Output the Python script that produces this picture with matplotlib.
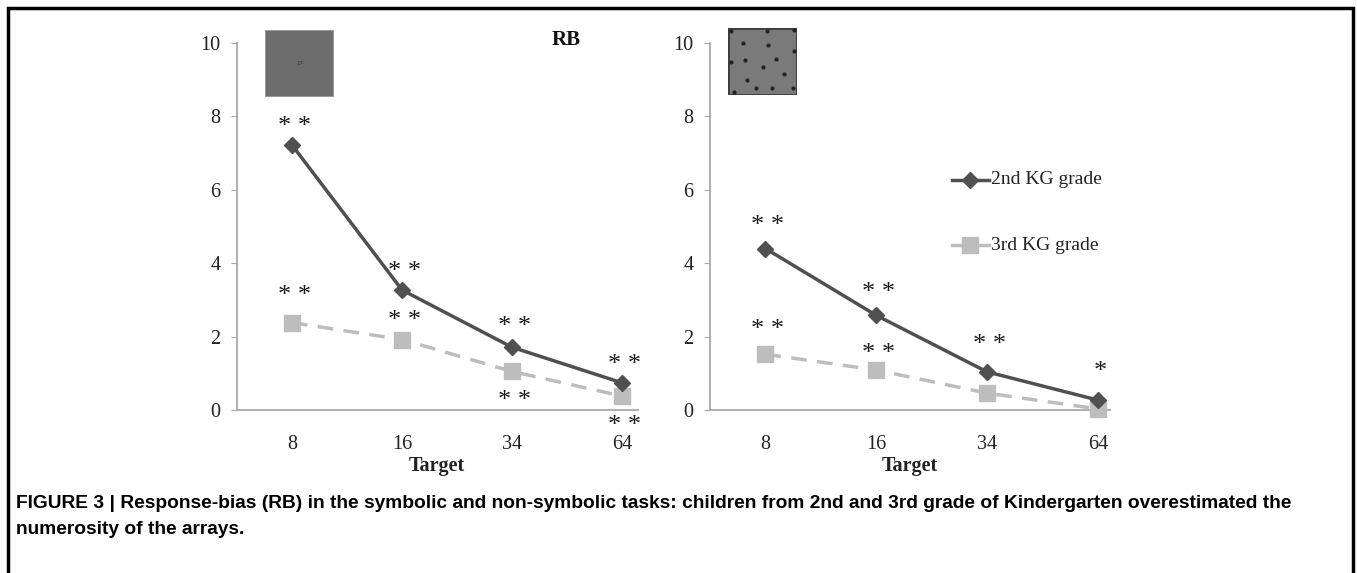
import matplotlib
matplotlib.use("Agg")
import matplotlib.pyplot as plt
from matplotlib.lines import Line2D
from matplotlib.patches import Rectangle

# data
targets = ["8", "16", "34", "64"]
symb_2nd = [7.22, 3.27, 1.71, 0.74]
symb_3rd = [2.38, 1.92, 1.05, 0.38]
nonsymb_2nd = [4.40, 2.58, 1.04, 0.27]
nonsymb_3rd = [1.52, 1.09, 0.46, 0.03]

# significance marks: (category, y of text, label)
symb_stars = [(0, 7.86, "* *"), (0, 3.27, "* *"), (1, 3.92, "* *"), (1, 2.59, "* *"),
              (2, 2.40, "* *"), (2, 0.40, "* *"), (3, 1.38, "* *"), (3, -0.29, "* *")]
nonsymb_stars = [(0, 5.17, "* *"), (0, 2.34, "* *"), (1, 3.35, "* *"), (1, 1.68, "* *"),
                 (2, 1.92, "* *"), (3, 1.18, "*")]

# dots in the non-symbolic example picture (fractions of the square, y from top)
dots_x = [0.04, 0.56, 0.96, 0.22, 0.58, 0.95, 0.05, 0.25, 0.70, 0.50, 0.81, 0.28, 0.08, 0.41, 0.64, 0.94]
dots_y = [0.05, 0.05, 0.03, 0.23, 0.26, 0.34, 0.50, 0.48, 0.46, 0.58, 0.68, 0.77, 0.96, 0.90, 0.90, 0.90]

W, H = 1357, 573
dark = "#505050"
light = "#bdbdbd"
serif = ["Liberation Serif", "DejaVu Serif"]

fig = plt.figure(figsize=(W / 100, H / 100), dpi=100)


def px(x, y):
    return x / W, 1 - y / H


def panel(left, right, xmax, s2, s3, stars):
    x0, y0 = px(left, 410)
    x1, y1 = px(right, 43)
    ax = fig.add_axes([x0, y0, x1 - x0, y1 - y0])
    xs = range(len(targets))
    ax.plot(xs, s3, color=light, lw=2.5, ls=(0, (4.5, 3)), marker="s", ms=12,
            clip_on=False, zorder=3)
    ax.plot(xs, s2, color=dark, lw=2.5, marker="D", ms=8.5, clip_on=False, zorder=4)
    for i, yv, lab in stars:
        # Times asterisks sit high in the line, so push the text down a little
        ax.annotate(lab, (i + 0.02, yv), xytext=(0, -4), textcoords="offset points",
                    ha="center", va="center", fontsize=19, family=serif,
                    color="#1a1a1a", annotation_clip=False)
    ax.set_xlim(-0.5, xmax)
    ax.set_ylim(0, 10)
    ax.set_xticks(list(xs))
    ax.set_xticklabels(targets)
    ax.set_yticks(range(0, 11, 2))
    for s in ["top", "right"]:
        ax.spines[s].set_visible(False)
    for s in ["left", "bottom"]:
        ax.spines[s].set_color("#a8a8a8")
        ax.spines[s].set_linewidth(1.3)
    ax.tick_params(axis="x", length=0, pad=18)
    ax.tick_params(axis="y", length=4, color="#a8a8a8", pad=8)
    for t in ax.get_xticklabels() + ax.get_yticklabels():
        t.set_family(serif)
        t.set_fontsize(14.5)
        t.set_color("#222222")
    ax.patch.set_alpha(0)
    return ax


ax1 = panel(237, 638, 3.145, symb_2nd, symb_3rd, symb_stars)
ax2 = panel(710, 1110, 3.11, nonsymb_2nd, nonsymb_3rd, nonsymb_stars)

fig.text(*px(437, 466), "Target", ha="center", va="center", fontsize=14.5,
         fontweight="bold", family=serif, color="#222222")
fig.text(*px(910, 466), "Target", ha="center", va="center", fontsize=14.5,
         fontweight="bold", family=serif, color="#222222")
fig.text(*px(566, 40), "RB", ha="center", va="center", fontsize=15,
         fontweight="bold", family=serif, color="#111111")

# legend drawn by hand inside the right panel area
for yy, col, mk, ms, lab in [(180, dark, "D", 8.5, "2nd KG grade"),
                             (245, light, "s", 12, "3rd KG grade")]:
    lx0, ly = px(952, yy)
    lx1, _ = px(989, yy)
    fig.add_artist(Line2D([lx0, lx1], [ly, ly], color=col, lw=2.5,
                          transform=fig.transFigure))
    fig.add_artist(Line2D([(lx0 + lx1) / 2], [ly], color=col, marker=mk, ms=ms,
                          transform=fig.transFigure))
    fig.text(px(991, yy)[0], ly, lab, ha="left", va="center", fontsize=14,
             family=serif, color="#222222")

# example stimuli
bx, by = px(265, 97)
bw, bh = 69 / W, 67 / H
iax = fig.add_axes([bx, by, bw, bh])
iax.set_xlim(0, 1)
iax.set_ylim(0, 1)
iax.add_patch(Rectangle((0, 0), 1, 1, facecolor="#6d6d6d", edgecolor="#9a9a9a", lw=1.5))
iax.text(0.5, 0.5, "17", ha="center", va="center", fontsize=4, color="#333333")
iax.axis("off")

bx, by = px(728, 95)
bw, bh = 69 / W, 67 / H
iax2 = fig.add_axes([bx, by, bw, bh])
iax2.set_xlim(0, 1)
iax2.set_ylim(0, 1)
iax2.add_patch(Rectangle((0, 0), 1, 1, facecolor="#7a7a7a", edgecolor="#3c3c3c", lw=2))
iax2.scatter(dots_x, [1 - v for v in dots_y], s=4, color="#222222", zorder=3)
iax2.axis("off")

# caption
cap_font = ["Liberation Sans", "DejaVu Sans"]
fig.text(16 / W, 1 - 503 / H,
         "FIGURE 3 | Response-bias (RB) in the symbolic and non-symbolic tasks: children from 2nd and 3rd grade of Kindergarten overestimated the",
         ha="left", va="center", fontsize=13.75, fontweight="bold", family=cap_font)
fig.text(16 / W, 1 - 530 / H, "numerosity of the arrays.",
         ha="left", va="center", fontsize=13.75, fontweight="bold", family=cap_font)

# frame around the figure
fig.add_artist(Rectangle((8 / W, -0.05), (1353 - 8) / W, 1.05 - 8 / H, fill=False,
                         edgecolor="black", lw=2.5, transform=fig.transFigure))

fig.savefig("out.png", dpi=100)
